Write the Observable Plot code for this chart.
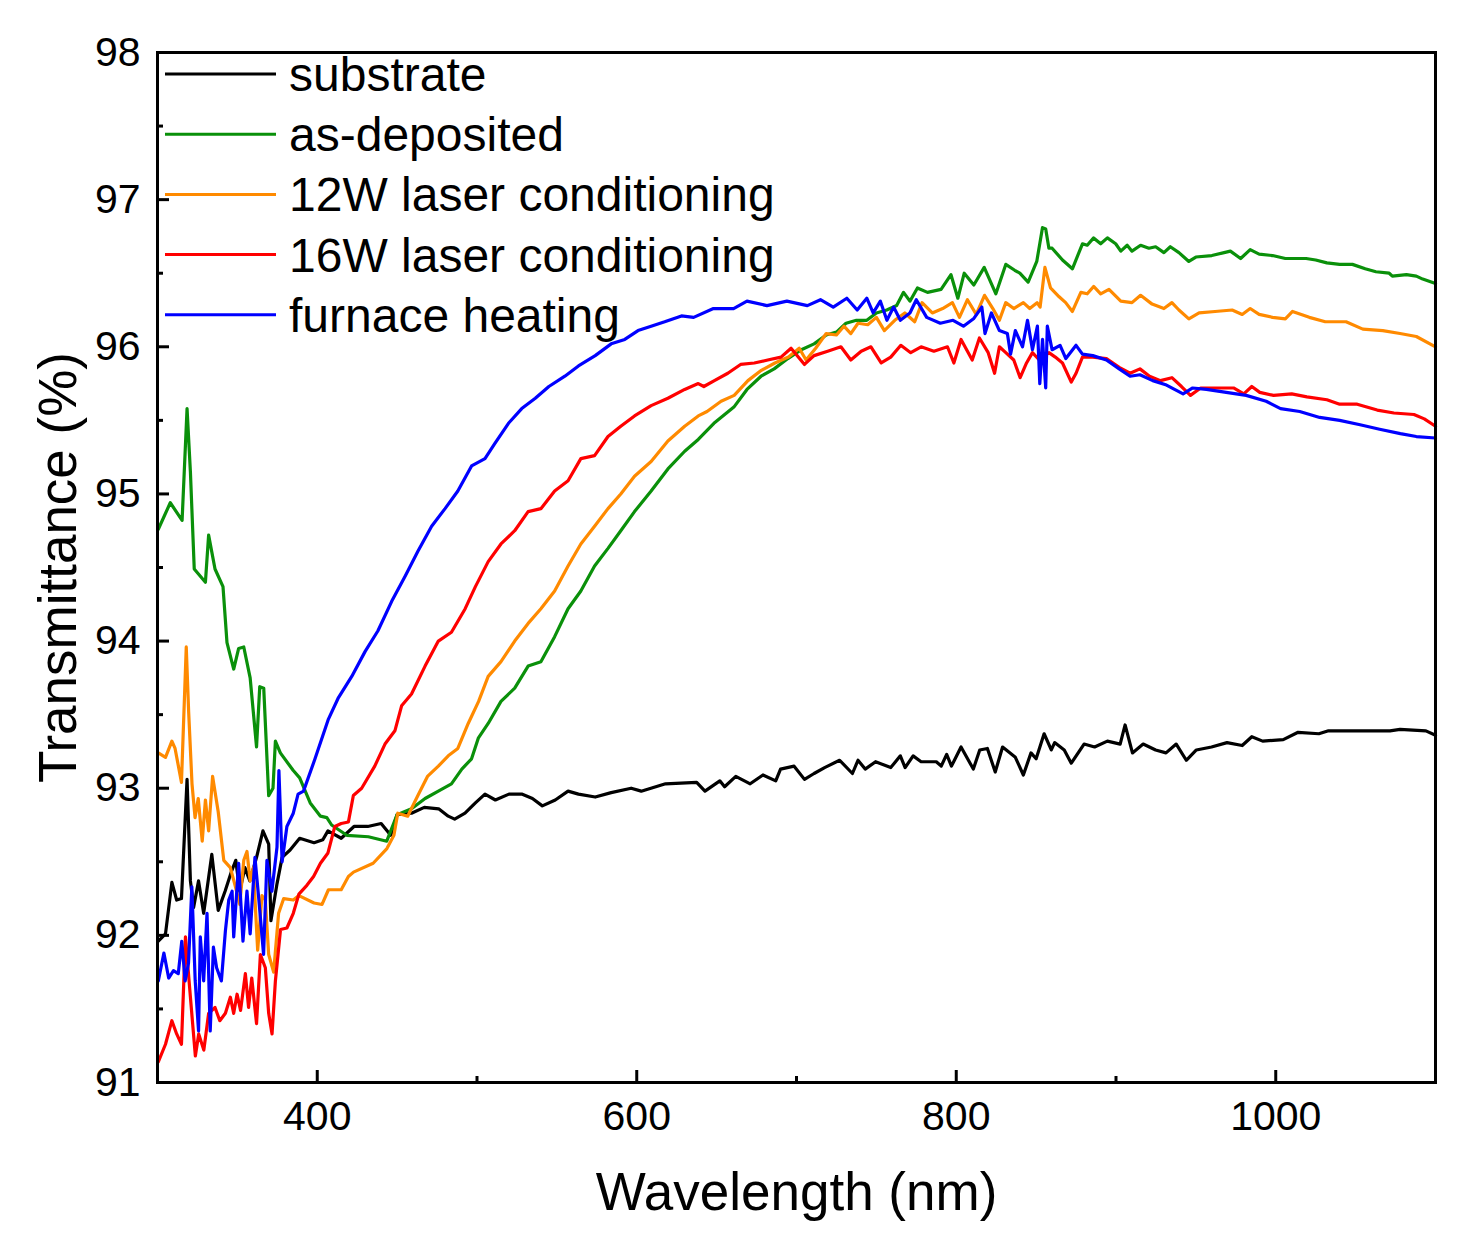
<!DOCTYPE html>
<html><head><meta charset="utf-8">
<script src="https://cdn.jsdelivr.net/npm/d3@7"></script>
<script src="https://cdn.jsdelivr.net/npm/@observablehq/plot@0.6"></script>
<style>
body{margin:0;background:#fff;}
#chart{position:relative;width:1463px;height:1250px;}
</style>
</head><body><div id="chart"></div>
<script>
const seriesNames = ["substrate", "as-deposited", "12W laser conditioning", "16W laser conditioning", "furnace heating"];
const seriesColors = ["#000000", "#0a900a", "#ff8a00", "#ff0000", "#0000ff"];

const yMajorTicks = [91, 92, 93, 94, 95, 96, 97, 98];
const yMinorTicks = [91.5, 92.5, 93.5, 94.5, 95.5, 96.5, 97.5];
const xMajorTicks = [400, 600, 800, 1000];
const xMinorTicks = [500, 700, 900];

// [wavelength (nm), transmittance (%)]
const substrate = [[300.5,91.96],[305,92.01],[309,92.36],[312,92.24],[315,92.25],[318.5,93.06],[320.6,92.37],[322.6,92.19],[325.7,92.37],[328.9,92.15],[334,92.55],[338,92.17],[342.3,92.30],[346.5,92.44],[349,92.51],[351.5,92.30],[354.7,92.46],[357.8,92.37],[362,92.53],[366,92.71],[369.6,92.62],[371,92.10],[374.8,92.35],[378,92.53],[383,92.58],[389,92.66],[398,92.63],[403.5,92.65],[406.7,92.71],[415,92.66],[423,92.74],[431.6,92.74],[440,92.76],[446,92.68],[450,92.82],[459,92.83],[467,92.87],[476,92.86],[482,92.81],[486,92.79],[492.5,92.83],[499,92.90],[505,92.96],[511.5,92.92],[520,92.96],[528,92.96],[534.7,92.93],[540.9,92.88],[549,92.92],[557,92.98],[563.5,92.96],[574,92.94],[584,92.97],[596.5,93.0],[602.8,92.98],[618,93.03],[637.5,93.04],[642.7,92.98],[652,93.05],[655,93.01],[662,93.08],[671,93.03],[679,93.09],[687,93.05],[690,93.13],[698.5,93.15],[705,93.06],[711,93.10],[717.6,93.14],[727,93.19],[735,93.10],[738.5,93.19],[743,93.13],[749.5,93.18],[759,93.14],[765,93.22],[768,93.14],[773,93.22],[778,93.18],[787.5,93.18],[790.6,93.15],[794,93.23],[797,93.15],[803,93.28],[810.7,93.13],[814.7,93.26],[819.5,93.27],[824.4,93.11],[829,93.28],[837,93.21],[842,93.09],[846.8,93.24],[850,93.20],[855,93.37],[859.5,93.26],[861.6,93.31],[867.6,93.26],[872,93.17],[880,93.30],[886.6,93.28],[894.6,93.32],[902.6,93.30],[905.7,93.43],[910.3,93.24],[917,93.30],[924.8,93.26],[931.3,93.24],[937.7,93.30],[944,93.19],[950.3,93.26],[959.8,93.28],[969.5,93.31],[979,93.29],[985,93.35],[991.8,93.32],[1004.7,93.33],[1014,93.38],[1027,93.37],[1033,93.39],[1049,93.39],[1071.5,93.39],[1077.8,93.40],[1094,93.39],[1100,93.36]];

const asDeposited = [[300.5,94.76],[308,94.94],[315.4,94.82],[318.5,95.58],[320.6,95.15],[323,94.49],[330,94.40],[332,94.72],[336,94.49],[341,94.37],[343.5,93.99],[347.7,93.81],[350.8,93.95],[354,93.96],[358,93.75],[362,93.28],[364,93.69],[366.5,93.68],[369.6,92.95],[372.3,93.0],[373.8,93.32],[376.9,93.24],[385,93.12],[389,93.07],[395.6,92.90],[402,92.81],[406,92.80],[409,92.75],[418.5,92.68],[432,92.67],[443.5,92.64],[450,92.82],[459,92.86],[467.5,92.93],[475.8,92.98],[484,93.03],[490.5,93.13],[496.6,93.20],[500.8,93.34],[507,93.44],[515,93.59],[523.6,93.68],[532,93.83],[540,93.86],[548.6,94.03],[557,94.22],[565,94.34],[573.6,94.51],[582,94.63],[590,94.75],[598.6,94.88],[609,95.02],[619.5,95.17],[630,95.29],[638.5,95.37],[648.3,95.48],[660.8,95.59],[669,95.71],[677.8,95.80],[686,95.85],[694.6,95.92],[703,95.98],[711,96.02],[718.6,96.08],[725,96.10],[731,96.16],[737.5,96.18],[744,96.18],[750,96.23],[756.5,96.25],[762.7,96.28],[767,96.37],[771,96.31],[775.7,96.40],[782,96.37],[790.5,96.39],[796.7,96.49],[801,96.33],[805,96.50],[811,96.42],[817.5,96.54],[824.8,96.36],[831,96.56],[836.6,96.52],[839.8,96.50],[845,96.44],[850.4,96.58],[854,96.81],[856,96.80],[858,96.67],[860,96.67],[866.5,96.59],[872.7,96.53],[879,96.70],[882,96.69],[886,96.74],[890.4,96.70],[894.6,96.74],[899.8,96.70],[903,96.65],[907,96.69],[910,96.65],[915.4,96.69],[920.6,96.67],[924.8,96.68],[930,96.64],[934,96.68],[939.4,96.64],[945.6,96.58],[950,96.61],[960,96.62],[971.6,96.65],[978,96.60],[984,96.66],[989.6,96.63],[998,96.62],[1006,96.60],[1019,96.60],[1025,96.59],[1032,96.57],[1040,96.56],[1048,96.56],[1056,96.53],[1062.7,96.51],[1071,96.50],[1073,96.48],[1081.8,96.49],[1088,96.48],[1092,96.46],[1100,96.43]];

const laser12W = [[300.5,93.24],[305,93.21],[309,93.32],[311,93.27],[315,93.04],[318,93.96],[319.5,93.52],[321.6,93.03],[323.5,92.80],[325.5,92.93],[328,92.64],[330,92.92],[332,92.71],[334.5,93.08],[338,92.84],[341.5,92.51],[345.6,92.46],[348.8,92.33],[351.5,92.21],[354,92.51],[356,92.57],[358,92.37],[360,92.46],[362.7,91.90],[365.4,92.27],[367.5,92.24],[369.6,91.87],[372.7,91.75],[375.8,92.15],[379,92.25],[385,92.24],[388.5,92.27],[398,92.22],[403,92.21],[407,92.31],[415,92.31],[419.5,92.40],[422.7,92.43],[435,92.49],[443.6,92.59],[448,92.68],[450.4,92.83],[456.6,92.81],[463,92.95],[469,93.08],[475.8,93.15],[482,93.22],[488,93.27],[494.5,93.44],[501,93.59],[507,93.76],[515,93.86],[523.6,94.0],[532,94.12],[540,94.22],[548.6,94.34],[557,94.51],[565,94.66],[573.6,94.78],[582,94.90],[590,95.0],[598.6,95.12],[609,95.22],[619.5,95.36],[630,95.46],[638.5,95.53],[644,95.56],[652.8,95.63],[661,95.67],[669.6,95.77],[678,95.84],[686.5,95.89],[695,95.93],[701.7,95.99],[706,95.91],[712,95.99],[718.6,96.09],[725,96.08],[729.7,96.14],[734,96.09],[738.5,96.16],[744.6,96.15],[750,96.20],[755,96.11],[761.5,96.18],[767.8,96.23],[774,96.17],[778.6,96.30],[785,96.23],[791.5,96.26],[797.6,96.30],[802,96.20],[807,96.32],[812.5,96.22],[817.7,96.35],[822.9,96.26],[827,96.18],[831,96.30],[836,96.26],[842,96.30],[846,96.26],[850.6,96.30],[852.5,96.27],[855.5,96.54],[859,96.40],[864.4,96.34],[868.5,96.30],[872.7,96.24],[878,96.37],[882,96.36],[886,96.41],[890.4,96.36],[895.6,96.39],[903,96.31],[910,96.30],[915.4,96.35],[922.6,96.29],[930,96.26],[935,96.30],[939.4,96.25],[945.6,96.19],[952,96.23],[962,96.24],[972.7,96.25],[979,96.22],[984,96.26],[989.6,96.22],[998,96.20],[1006,96.19],[1010.5,96.24],[1021,96.20],[1031,96.17],[1044,96.17],[1054.5,96.12],[1067,96.11],[1077.8,96.09],[1088,96.07],[1100,96.00]];

const laser16W = [[300.5,91.14],[305,91.26],[309,91.42],[312,91.33],[315,91.26],[317.5,91.99],[320.6,91.58],[323.7,91.18],[325.8,91.33],[329,91.22],[332,91.47],[336,91.51],[339,91.42],[342.5,91.47],[345.6,91.58],[347.7,91.47],[349.8,91.60],[352,91.49],[355,91.74],[357,91.51],[359,91.71],[362,91.40],[364.4,91.87],[367.5,91.78],[369.6,91.47],[371.7,91.33],[373.8,91.69],[377,92.04],[381,92.05],[385,92.15],[388.5,92.28],[393.5,92.34],[397.7,92.40],[402,92.49],[406.7,92.56],[411,92.74],[415,92.76],[419.5,92.77],[422.6,92.95],[427.8,93.0],[436,93.15],[442.4,93.30],[448.6,93.39],[452.8,93.56],[459,93.64],[467.5,93.83],[475.8,94.0],[484,94.06],[492.6,94.22],[499,94.37],[507,94.54],[515,94.66],[523.6,94.75],[532,94.88],[540,94.90],[548.6,95.02],[557,95.09],[565,95.24],[573.6,95.26],[582,95.39],[590,95.46],[598.6,95.53],[609,95.60],[619.5,95.65],[630,95.71],[638.5,95.75],[642,95.73],[648.6,95.77],[657,95.82],[665,95.88],[673.6,95.89],[682,95.91],[690.3,95.93],[696.6,95.99],[705,95.88],[711,95.94],[719.5,95.97],[727.8,96.0],[734,95.91],[740.5,95.97],[746.6,96.0],[753,95.89],[759,95.93],[765.3,96.01],[771.5,95.96],[778,96.0],[786,95.97],[794.5,96.0],[798.5,95.89],[803,96.05],[810,95.91],[814.5,96.06],[820,95.96],[824,95.82],[827,96.0],[831,95.96],[836,95.91],[840,95.79],[844,95.89],[847.7,95.96],[852,95.91],[858,95.96],[862,95.93],[866.5,95.89],[872,95.76],[875,95.82],[879,95.93],[885.5,95.93],[894,95.92],[902,95.86],[908.8,95.82],[915,95.85],[921,95.80],[927.8,95.77],[935,95.79],[941,95.73],[946.6,95.67],[953,95.72],[963,95.72],[973.6,95.72],[980,95.68],[985,95.73],[990,95.69],[998.6,95.67],[1010,95.68],[1019.5,95.66],[1032,95.64],[1040,95.61],[1051,95.61],[1063.5,95.57],[1074,95.55],[1086.5,95.54],[1093,95.51],[1100,95.46]];

const furnace = [[300.5,91.69],[304,91.88],[307,91.71],[310,91.76],[313,91.74],[315.2,91.96],[317.3,91.69],[319.4,91.81],[321.5,92.33],[323.6,91.69],[325.7,91.35],[326.8,91.99],[328.9,91.69],[331,92.15],[333,91.35],[335,91.92],[337,91.78],[340,91.69],[342.5,92.03],[344.6,92.24],[346.7,92.30],[347.7,91.99],[350.8,92.49],[353.5,91.96],[356,92.30],[358,92.01],[361,92.53],[363.3,92.26],[366.4,91.87],[368.5,92.51],[371.6,92.30],[374.8,92.60],[376,93.12],[378,92.50],[381,92.74],[385,92.83],[388,92.96],[391.4,92.98],[398.6,93.20],[407,93.47],[413,93.61],[421.6,93.76],[430,93.93],[438,94.07],[446.6,94.27],[455,94.44],[463,94.61],[471.6,94.78],[480,94.90],[488,95.02],[496.6,95.19],[505,95.24],[511,95.34],[519.7,95.48],[528,95.58],[536.5,95.65],[545,95.73],[555,95.80],[563.5,95.87],[574,95.94],[584,96.02],[592.5,96.05],[600.8,96.11],[609,96.14],[617.5,96.17],[628,96.21],[635.6,96.20],[648,96.26],[660.6,96.26],[669,96.31],[681.5,96.28],[694,96.31],[706.8,96.28],[715,96.32],[723,96.27],[731.5,96.33],[738,96.25],[744,96.33],[748,96.23],[752.5,96.31],[756.6,96.18],[760.8,96.27],[765,96.18],[771,96.23],[775,96.32],[781.5,96.20],[790,96.16],[798,96.18],[804.5,96.14],[810.8,96.19],[816,96.27],[818,96.09],[822,96.23],[827,96.11],[832,96.09],[834,95.95],[837,96.11],[841.5,96.00],[844.6,96.18],[847.7,95.98],[850.8,96.14],[852.3,95.75],[854,96.05],[856,95.72],[857,96.14],[860,95.98],[865,96.01],[868.6,95.92],[875,96.01],[879,95.95],[885.5,95.94],[894,95.91],[902,95.85],[908.8,95.80],[915,95.81],[923,95.77],[931.6,95.74],[942,95.68],[948,95.72],[956.6,95.71],[969,95.69],[981.5,95.67],[994,95.63],[1003,95.58],[1015,95.56],[1027.5,95.52],[1040,95.50],[1052.8,95.47],[1065,95.44],[1078,95.41],[1088,95.39],[1100,95.38]];

const seriesData = [substrate, asDeposited, laser12W, laser16W, furnace];

const table = seriesData.flatMap((arr, i) =>
  arr.map(([w, t]) => ({series: seriesNames[i], wavelength: w, transmittance: t})));

const FONT = "'Liberation Sans', Arial, Helvetica, sans-serif";
const intFmt = d3.format("d");

const plot = Plot.plot({
  width: 1463,
  height: 1250,
  marginLeft: 157,
  marginRight: 28,
  marginTop: 52,
  marginBottom: 168,
  style: {fontFamily: FONT, background: "#ffffff", color: "#000", overflow: "visible"},
  x: {domain: [300, 1100]},
  y: {domain: [91, 98]},
  color: {domain: seriesNames, range: seriesColors},
  marks: [
    Plot.lineY(table, {x: "wavelength", y: "transmittance", z: "series", stroke: "series", strokeWidth: 3.2, strokeLinejoin: "round"}),
    // tick labels
    Plot.axisX(xMajorTicks, {anchor: "bottom", tickSize: 0, tickPadding: 18, fontSize: 41, tickFormat: intFmt, label: null}),
    Plot.axisY(yMajorTicks, {anchor: "left", tickSize: 0, tickPadding: 17, fontSize: 41, tickFormat: intFmt, label: null}),
    // inward ticks
    Plot.axisX(xMajorTicks, {anchor: "bottom", tickSize: 12, dy: -12, strokeWidth: 3, tickFormat: () => "", label: null}),
    Plot.axisX(xMinorTicks, {anchor: "bottom", tickSize: 6, dy: -6, strokeWidth: 3, tickFormat: () => "", label: null}),
    Plot.axisY(yMajorTicks, {anchor: "left", tickSize: 12, dx: 12, strokeWidth: 3, tickFormat: () => "", label: null}),
    Plot.axisY(yMinorTicks, {anchor: "left", tickSize: 6, dx: 6, strokeWidth: 3, tickFormat: () => "", label: null}),
    // axis titles
    Plot.axisX([], {anchor: "bottom", tickSize: 0, label: "Wavelength (nm)", labelAnchor: "center", labelArrow: "none", labelOffset: 127, fontSize: 53}),
    Plot.axisY([], {anchor: "left", tickSize: 0, label: "Transmittance (%)", labelAnchor: "center", labelArrow: "none", labelOffset: 119, fontSize: 53}),
    Plot.frame({stroke: "#000", strokeWidth: 3})
  ]
});

// legend (top-left, inside the frame)
const svg = d3.select(plot);
const lg = svg.append("g").attr("font-family", FONT).attr("font-size", 48)
  .attr("fill", "#000").attr("text-anchor", "start");
seriesNames.forEach((name, i) => {
  const ly = 74 + i * 60.2;
  lg.append("line").attr("x1", 165).attr("x2", 276).attr("y1", ly).attr("y2", ly)
    .attr("stroke", seriesColors[i]).attr("stroke-width", 3);
  lg.append("text").attr("x", 289).attr("y", ly + 17).attr("text-anchor", "start").text(name);
});

document.getElementById("chart").appendChild(plot);
</script>
</body></html>
